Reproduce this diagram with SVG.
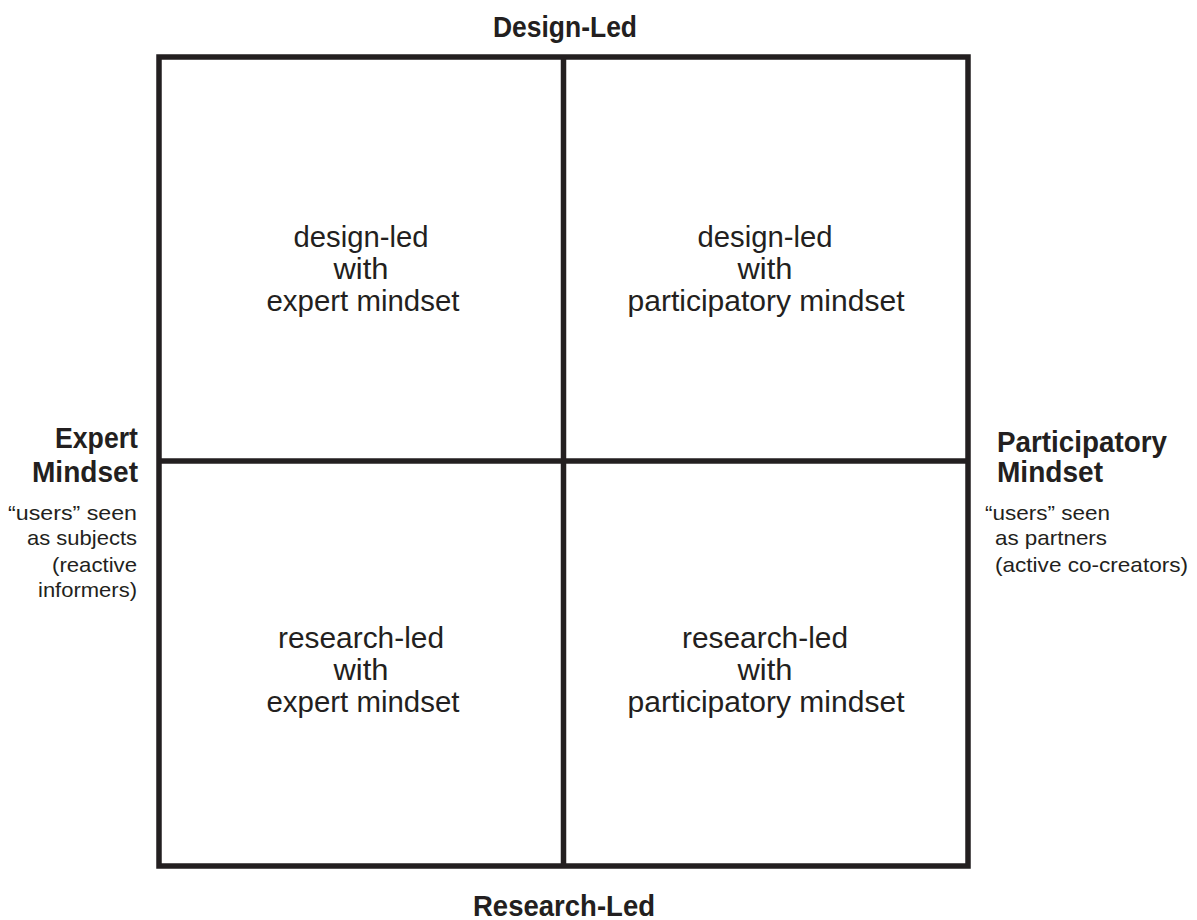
<svg xmlns="http://www.w3.org/2000/svg" width="1197" height="920" viewBox="0 0 1197 920">
  <style>
    .frame { fill: none; stroke: #231f20; stroke-width: 5.5; }
    .axis { font-family: "Liberation Sans Narrow", "Liberation Sans", sans-serif; font-weight: bold; font-size: 30px; fill: #231f20; }
    .cell { font-family: "Liberation Sans Narrow", "Liberation Sans", sans-serif; font-size: 30px; fill: #231f20; text-anchor: middle; }
    .note { font-family: "Liberation Sans Narrow", "Liberation Sans", sans-serif; font-size: 21px; fill: #231f20; }
  </style>
  <rect width="1197" height="920" fill="#ffffff"/>

  <!-- quadrant grid -->
  <g id="connectors">
    <rect class="frame" x="159" y="57" width="809" height="809"/>
    <line class="frame" x1="563.5" y1="57" x2="563.5" y2="866"/>
    <line class="frame" x1="159" y1="461" x2="968" y2="461"/>
  </g>

  <!-- axis labels (condensed via textLength) -->
  <g id="axis-top"><text class="axis" x="565" y="37" text-anchor="middle" textLength="144" lengthAdjust="spacingAndGlyphs">Design-Led</text></g>
  <g id="axis-bottom"><text class="axis" x="564" y="916" text-anchor="middle" textLength="182" lengthAdjust="spacingAndGlyphs">Research-Led</text></g>
  <g id="axis-left">
    <text class="axis" x="55" y="448" textLength="83" lengthAdjust="spacingAndGlyphs">Expert</text>
    <text class="axis" x="32" y="482" textLength="106" lengthAdjust="spacingAndGlyphs">Mindset</text>
    <text class="note" x="8" y="520" textLength="129" lengthAdjust="spacingAndGlyphs">“users” seen</text>
    <text class="note" x="27" y="545" textLength="110" lengthAdjust="spacingAndGlyphs">as subjects</text>
    <text class="note" x="52" y="572" textLength="85" lengthAdjust="spacingAndGlyphs">(reactive</text>
    <text class="note" x="38" y="597" textLength="99" lengthAdjust="spacingAndGlyphs">informers)</text>
  </g>
  <g id="axis-right">
    <text class="axis" x="997" y="452" textLength="170" lengthAdjust="spacingAndGlyphs">Participatory</text>
    <text class="axis" x="997" y="482" textLength="106" lengthAdjust="spacingAndGlyphs">Mindset</text>
    <text class="note" x="985" y="520" textLength="125" lengthAdjust="spacingAndGlyphs">“users” seen</text>
    <text class="note" x="995" y="545" textLength="112" lengthAdjust="spacingAndGlyphs">as partners</text>
    <text class="note" x="995" y="572" textLength="193" lengthAdjust="spacingAndGlyphs">(active co-creators)</text>
  </g>

  <!-- quadrants -->
  <g id="q-design-expert">
    <text class="cell" x="361" y="247" textLength="135" lengthAdjust="spacingAndGlyphs">design-led</text>
    <text class="cell" x="361" y="279" textLength="55" lengthAdjust="spacingAndGlyphs">with</text>
    <text class="cell" x="363" y="311" textLength="193" lengthAdjust="spacingAndGlyphs">expert mindset</text>
  </g>
  <g id="q-design-participatory">
    <text class="cell" x="765" y="247" textLength="135" lengthAdjust="spacingAndGlyphs">design-led</text>
    <text class="cell" x="765" y="279" textLength="55" lengthAdjust="spacingAndGlyphs">with</text>
    <text class="cell" x="766" y="311" textLength="277" lengthAdjust="spacingAndGlyphs">participatory mindset</text>
  </g>
  <g id="q-research-expert">
    <text class="cell" x="361" y="648" textLength="166" lengthAdjust="spacingAndGlyphs">research-led</text>
    <text class="cell" x="361" y="680" textLength="55" lengthAdjust="spacingAndGlyphs">with</text>
    <text class="cell" x="363" y="712" textLength="193" lengthAdjust="spacingAndGlyphs">expert mindset</text>
  </g>
  <g id="q-research-participatory">
    <text class="cell" x="765" y="648" textLength="166" lengthAdjust="spacingAndGlyphs">research-led</text>
    <text class="cell" x="765" y="680" textLength="55" lengthAdjust="spacingAndGlyphs">with</text>
    <text class="cell" x="766" y="712" textLength="277" lengthAdjust="spacingAndGlyphs">participatory mindset</text>
  </g>
</svg>
